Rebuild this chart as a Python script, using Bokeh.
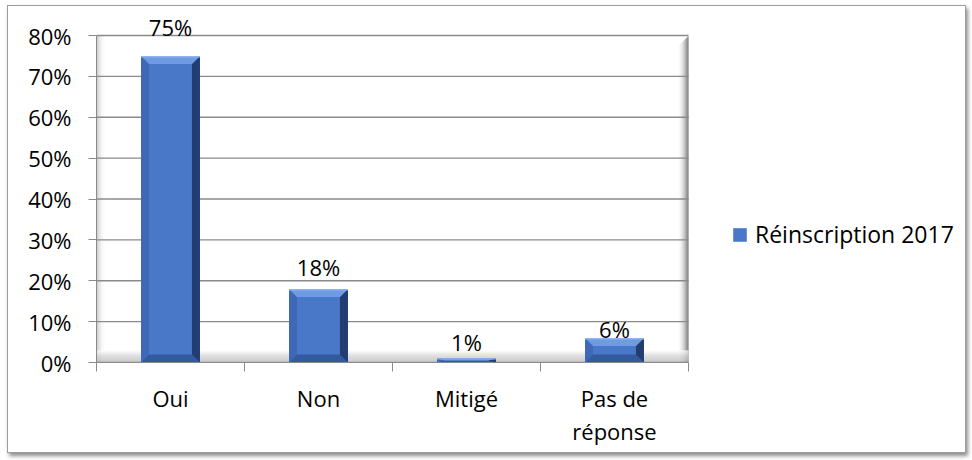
from bokeh.plotting import figure
from bokeh.models import (FixedTicker, NumeralTickFormatter, Legend, LegendItem,
                          ColumnDataSource, LabelSet)
from bokeh.core.properties import value
from bokeh.embed import file_html
from bokeh.resources import INLINE

# ---- data ----
categories = ["Oui", "Non", "Mitigé", "Pas de\nréponse"]
values = [0.75, 0.18, 0.01, 0.06]
value_labels = ["75%", "18%", "1%", "6%"]
series_name = "Réinscription 2017"
y_ticks = [0.0, 0.1, 0.2, 0.3, 0.4, 0.5, 0.6, 0.7, 0.8]

FONT = "Open Sans"
W, H = 959, 448
ML, MR, MT, MB = 88, 0, 0, 92
FW = W - ML - MR
FH = H - MT - MB
NC = len(categories)
YMAX = 0.8
PXU = 148.0                    # pixels per category
PYU = (FH - 29) / YMAX         # pixels per unit of y
X0, X1 = 0, FW / PXU
Y0, Y1 = 0.0, FH / PYU
PX = 1 / PXU
PY = 1 / PYU

p = figure(width=W, height=H, output_backend="svg", toolbar_location=None,
           x_range=(X0, X1), y_range=(Y0, Y1),
           min_border_left=ML, min_border_right=MR,
           min_border_top=MT, min_border_bottom=MB)
p.styles = {"border": "1px solid #9c9c9c",
            "box-shadow": "2px 3px 4px rgba(0,0,0,0.45)",
            "margin-left": "7px", "margin-top": "5px"}
p.outline_line_color = None
p.background_fill_color = "white"
p.border_fill_color = "white"
p.xgrid.grid_line_color = None
p.ygrid.grid_line_color = None

# ---- 3D walls / floor decorations ----
lw = 8
p.quad(left=[i * PX for i in range(lw)], right=[(i + 1) * PX for i in range(lw)],
       bottom=0, top=YMAX,
       fill_color=[f"#{c:02x}{c:02x}{c:02x}" for c in [185, 200, 214, 226, 235, 243, 248, 252]],
       line_color=None)
rw = 10
rcols = [252, 245, 236, 224, 210, 192, 170, 145, 120, 100]
p.quad(left=[NC - (rw - i) * PX for i in range(rw)], right=[NC - (rw - i - 1) * PX for i in range(rw)],
       bottom=0, top=[YMAX - (rw - i) * PY for i in range(rw)],
       fill_color=[f"#{c:02x}{c:02x}{c:02x}" for c in rcols], line_color=None)

# gridlines limited to the plot area
gt = y_ticks[1:]
p.segment(x0=[0] * len(gt), x1=[NC] * len(gt), y0=gt, y1=gt,
          line_color="#8a8a8a", line_width=1.3)

fh = 12
fcols = [250, 244, 236, 228, 220, 214, 208, 204, 200, 196, 188, 160]
p.quad(left=0, right=NC,
       bottom=[(fh - i - 1) * PY for i in range(fh)],
       top=[(fh - i) * PY for i in range(fh)],
       fill_color=[f"#{c:02x}{c:02x}{c:02x}" for c in fcols], line_color=None)

# ---- bars with bevel ----
half = 0.199
xc = [i + 0.5 for i in range(NC)]
lefts = [x - half for x in xc]
rights = [x + half for x in xc]
src = ColumnDataSource(dict(left=lefts, right=rights, top=values, bottom=[0] * NC))
face = p.quad(left="left", right="right", top="top", bottom="bottom", source=src,
              fill_color="#4a78c8", line_color=None)

bx = 8 * PX
top_x, top_y, rt_x, rt_y, lt_x, lt_y, bt_x, bt_y = [], [], [], [], [], [], [], []
for l, r, v in zip(lefts, rights, values):
    by = min(8 * PY, v / 2)
    top_x.append([l, r, r - bx, l + bx]); top_y.append([v, v, v - by, v - by])
    rt_x.append([r, r, r - bx, r - bx]); rt_y.append([v, 0, by, v - by])
    lt_x.append([l, l, l + bx, l + bx]); lt_y.append([v, 0, by, v - by])
    bt_x.append([l, r, r - bx, l + bx]); bt_y.append([0, 0, by, by])
p.patches(lt_x, lt_y, fill_color="#3f69b6", line_color=None)
p.patches(bt_x, bt_y, fill_color="#34599d", line_color=None)
p.patches(rt_x, rt_y, fill_color="#233d70", line_color=None)
p.patches(top_x, top_y, fill_color="#6e9be3", line_color=None)
p.quad(left=lefts, right=rights, top=values, bottom=[v - min(1.5 * PY, v / 4) for v in values],
       fill_color="#8fb3ee", line_color=None)

# value labels
lab_src = ColumnDataSource(dict(x=xc, y=values, text=value_labels, off=[20, 13, 7, 0]))
labels = LabelSet(x="x", y="y", text="text", source=lab_src, y_offset="off",
                  text_align="center", text_baseline="alphabetic",
                  text_font=value(FONT), text_font_size=value("22px"), text_color="#000000")
p.add_layout(labels)

# ---- axes ----
p.yaxis.bounds = (0, YMAX)
p.yaxis.ticker = FixedTicker(ticks=y_ticks)
p.yaxis.formatter = NumeralTickFormatter(format="0%")
p.yaxis.major_label_text_font = FONT
p.yaxis.major_label_text_font_size = "22px"
p.yaxis.major_label_text_color = "#000000"
p.yaxis.axis_line_color = "#8a8a8a"
p.yaxis.major_tick_line_color = "#8a8a8a"
p.yaxis.major_tick_out = 8
p.yaxis.major_tick_in = 0
p.yaxis.minor_tick_line_color = None
p.yaxis.major_label_standoff = 17

p.xaxis.bounds = (0, NC)
p.xaxis.ticker = FixedTicker(ticks=xc, minor_ticks=list(range(0, NC + 1)))
p.xaxis.major_label_overrides = {x: c for x, c in zip(xc, categories)}
p.xaxis.major_label_text_font = FONT
p.xaxis.major_label_text_font_size = "22px"
p.xaxis.major_label_text_line_height = 1.1
p.xaxis.major_label_text_color = "#000000"
p.xaxis.axis_line_color = "#8a8a8a"
p.xaxis.major_tick_line_color = None
p.xaxis.minor_tick_line_color = "#8a8a8a"
p.xaxis.minor_tick_out = 9
p.xaxis.minor_tick_in = 0
p.xaxis.major_label_standoff = 11

# ---- legend ----
legend = Legend(items=[LegendItem(label=series_name, renderers=[face])],
                location=(635, 112), orientation="vertical",
                glyph_width=17, glyph_height=17, label_standoff=7,
                label_text_font=FONT, label_text_font_size="23px",
                label_text_color="#000000", label_height=17,
                padding=0, margin=0, spacing=0,
                border_line_color=None, background_fill_alpha=0)
p.add_layout(legend, "center")

open("out.html", "w").write(file_html(p, INLINE))
